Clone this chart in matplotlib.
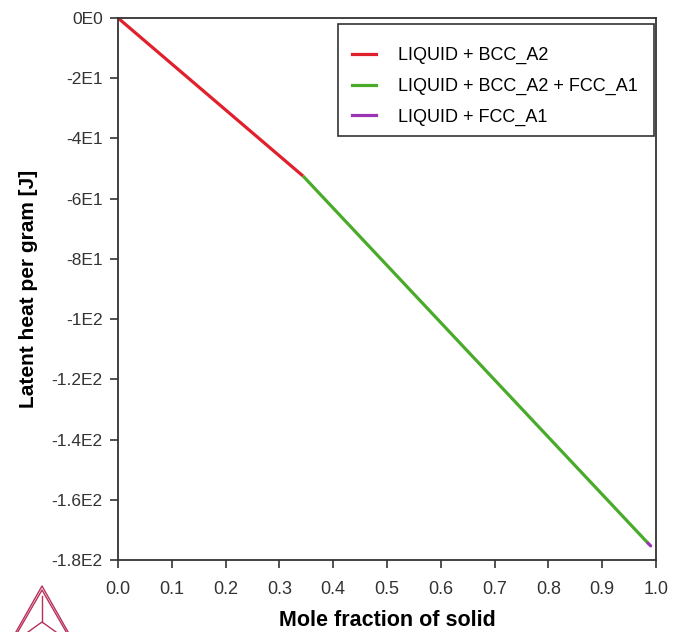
import matplotlib
matplotlib.use("Agg")
import matplotlib.pyplot as plt
from matplotlib.lines import Line2D
from matplotlib.patches import Rectangle

plt.rcParams['font.family'] = ['Liberation Sans', 'DejaVu Sans']

# latent heat along the solidification path, split by phase region
x_bcc = [0.0, 0.344]
y_bcc = [0.0, -52.5]
x_bcc_fcc = [0.344, 0.985]
y_bcc_fcc = [-52.5, -174.4]
x_fcc = [0.985, 0.99]
y_fcc = [-174.4, -175.3]

labels = ['LIQUID + BCC_A2', 'LIQUID + BCC_A2 + FCC_A1', 'LIQUID + FCC_A1']
colors = ['#e0202c', '#4aaa2a', '#9a34b4']

y_ticks = [0, -20, -40, -60, -80, -100, -120, -140, -160, -180]
y_ticklabels = ['0E0', '-2E1', '-4E1', '-6E1', '-8E1', '-1E2', '-1.2E2', '-1.4E2', '-1.6E2', '-1.8E2']
x_ticks = [0.0, 0.1, 0.2, 0.3, 0.4, 0.5, 0.6, 0.7, 0.8, 0.9, 1.0]

fig = plt.figure(figsize=(6.76, 6.32), dpi=100)
ax = fig.add_axes([0.1746, 0.1139, 0.7959, 0.8576])

ax.plot(x_bcc, y_bcc, color=colors[0], lw=2.3, label=labels[0], solid_capstyle='butt')
ax.plot(x_bcc_fcc, y_bcc_fcc, color=colors[1], lw=2.3, label=labels[1], solid_capstyle='butt')
ax.plot(x_fcc, y_fcc, color=colors[2], lw=2.3, label=labels[2], solid_capstyle='round')

ax.set_xlim(0, 1.0)
ax.set_ylim(-180, 0)
ax.set_xticks(x_ticks)
ax.set_xticklabels(['%.1f' % v for v in x_ticks], fontsize=13, color='#333333')
ax.set_yticks(y_ticks)
ax.set_yticklabels(y_ticklabels, fontsize=12.5, color='#333333')
ax.tick_params(direction='out', length=6, width=1.2, color='#333333')
ax.tick_params(axis='x', pad=9)
ax.tick_params(axis='y', pad=5)
for s in ax.spines.values():
    s.set_linewidth(1.3)
    s.set_color('#333333')

ax.set_xlabel('Mole fraction of solid', fontsize=15.5, fontweight='bold', labelpad=9)
ax.set_ylabel('Latent heat per gram [J]', fontsize=15, fontweight='bold', labelpad=10)

# legend entries without frame, box drawn separately
handles = [Line2D([], [], color=c, lw=2.3) for c in colors]
leg = ax.legend(handles, labels, loc='upper right', fontsize=13, frameon=False,
                handlelength=1.35, handletextpad=1.2, borderpad=0.9, borderaxespad=0,
                labelspacing=0.75, bbox_to_anchor=(0.996, 0.976))
ax.add_patch(Rectangle((0.409, 0.782), 0.587, 0.207, transform=ax.transAxes,
                       fill=True, facecolor='white', edgecolor='#333333', lw=1.2, zorder=4))
leg.set_zorder(5)

# logo in the bottom-left corner
logo = '#b8305a'
for dx in [0, 4]:
    fig.add_artist(Line2D([(42 - 30 - dx) / 676, 42 / 676, (42 + 30 + dx) / 676],
                          [1 - (632 + 10 + dx) / 632, 1 - (590 - dx) / 632, 1 - (632 + 10 + dx) / 632],
                          color=logo, lw=1.0, transform=fig.transFigure))
fig.add_artist(Line2D([42 / 676, 42 / 676], [1 - 596 / 632, 1 - 622 / 632],
                      color=logo, lw=1.0, transform=fig.transFigure))
fig.add_artist(Line2D([28 / 676, 42 / 676, 56 / 676], [0.0, 1 - 622 / 632, 0.0],
                      color=logo, lw=1.0, transform=fig.transFigure))

fig.savefig('out.png', dpi=100)
